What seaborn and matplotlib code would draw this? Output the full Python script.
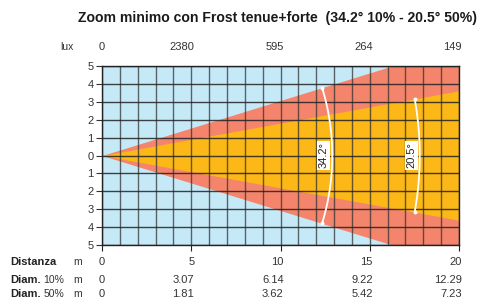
import numpy as np
import pandas as pd
import matplotlib
matplotlib.use("Agg")
import matplotlib.pyplot as plt
import seaborn as sns
from matplotlib import transforms

# ---------------- data ----------------
title = "Zoom minimo con Frost tenue+forte  (34.2° 10% - 20.5° 50%)"
distances = [0, 5, 10, 15, 20]
lux_labels = ["0", "2380", "595", "264", "149"]
diam10_labels = ["0", "3.07", "6.14", "9.22", "12.29"]
diam50_labels = ["0", "1.81", "3.62", "5.42", "7.23"]
beam_angles = [34.2, 20.5]          # full beam angles: 10% and 50%
beam_labels = ["34.2°", "20.5°"]
arc_radius = [12.9, 17.8]
label_x = [12.4, 17.35]
y_ticks = [-5, -4, -3, -2, -1, 0, 1, 2, 3, 4, 5]
max_dist = 20

# ---------------- style ----------------
sns.set_theme(style="white")
plt.rcParams["font.family"] = ["Liberation Sans", "DejaVu Sans"]

BLUE = "#c6e9f8"
SALMON = "#f4846c"
YELLOW = "#fbb816"
TXT = "#333333"

W, H = 483, 300
fig = plt.figure(figsize=(W / 100, H / 100), dpi=100)
L, R, T, B = 102, 459, 66, 245
ax = fig.add_axes([L / W, 1 - B / H, (R - L) / W, (B - T) / H])
ax.set_facecolor(BLUE)

# beams
xs = np.array([0, max_dist], dtype=float)
for ang, col in zip(beam_angles, [SALMON, YELLOW]):
    half = np.tan(np.radians(ang / 2)) * xs
    ax.fill_between(xs, -half, half, color=col, lw=0, zorder=1)

ax.set_xlim(0, max_dist)
ax.set_ylim(-5, 5)

# grid
ax.set_xticks(distances)
ax.set_xticks(np.arange(0, max_dist + 1, 1), minor=True)
ax.set_yticks(y_ticks)
ax.set_xticklabels([])
ax.set_yticklabels([str(abs(v)) for v in y_ticks], color=TXT, fontsize=8)
ax.tick_params(axis="x", which="major", bottom=True, length=4, width=0.8,
               color="#222222", direction="out")
ax.tick_params(axis="x", which="minor", bottom=False, length=0)
ax.tick_params(axis="y", which="major", left=True, length=4, width=0.8,
               color="#333333", direction="out", pad=2)
ax.set_axisbelow(False)
ax.grid(True, which="both", axis="x", color="#333333", lw=1.0, alpha=0.75, zorder=2)
ax.grid(True, which="major", axis="y", color="#222222", lw=1.0, alpha=0.85, zorder=2)
for s in ax.spines.values():
    s.set_color("#222222")
    s.set_linewidth(1.0)
    s.set_zorder(3)

# arcs
for ang, r in zip(beam_angles, arc_radius):
    th = np.radians(np.linspace(-ang / 2, ang / 2, 60))
    df = pd.DataFrame({"x": r * np.cos(th), "y": r * np.sin(th)})
    ax.plot(df["x"], df["y"], color="white", lw=1.3, solid_capstyle="round",
            zorder=5)
    ends = df.iloc[[0, -1]]
    sns.scatterplot(data=ends, x="x", y="y", s=8, color="white", zorder=6,
                    lw=0, ax=ax)

for lab, lx in zip(beam_labels, label_x):
    ax.text(lx, 0, lab, rotation=90, ha="center", va="center", fontsize=8,
            color="#222222", zorder=7,
            bbox=dict(boxstyle="square,pad=0.15", fc="white", ec="none"))
ax.set_xlabel("")
ax.set_ylabel("")

# title
fig.text(278 / W, 1 - 18 / H, title, ha="center", va="center", fontsize=10.1,
         fontweight="bold", color="#1a1a1a")

# tables of values
tr = transforms.blended_transform_factory(ax.transData, fig.transFigure)
off = 0.17
rows = [(47, lux_labels), (262, [str(d) for d in distances]),
        (280, diam10_labels), (294, diam50_labels)]
for ypx, labs in rows:
    for d, lab in zip(distances, labs):
        ax.text(d + off, 1 - ypx / H, lab, transform=tr, ha="right",
                va="center", fontsize=8, color=TXT, clip_on=False)

fig.text(67 / W, 1 - 47 / H, "lux", ha="center", va="center", fontsize=7.5, color=TXT)
fig.text(10 / W, 1 - 262 / H, "Distanza", ha="left", va="center", fontsize=8,
         fontweight="bold", color="#222222")
fig.text(10 / W, 1 - 280 / H, "Diam.", ha="left", va="center", fontsize=8,
         fontweight="bold", color="#222222")
fig.text(10 / W, 1 - 294 / H, "Diam.", ha="left", va="center", fontsize=8,
         fontweight="bold", color="#222222")
fig.text(43.5 / W, 1 - 280 / H, "10%", ha="left", va="center", fontsize=7.5, color=TXT)
fig.text(43.5 / W, 1 - 294 / H, "50%", ha="left", va="center", fontsize=7.5, color=TXT)
for ypx in (262, 280, 294):
    fig.text(78 / W, 1 - ypx / H, "m", ha="center", va="center", fontsize=7.5, color=TXT)

fig.savefig("out.png", dpi=100)
